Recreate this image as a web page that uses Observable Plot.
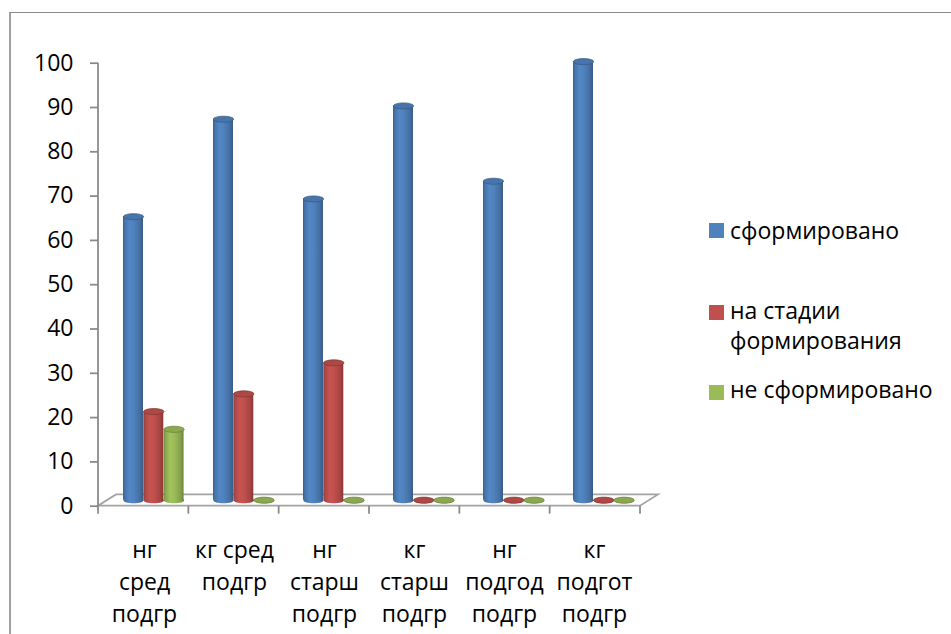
<!DOCTYPE html>
<html><head><meta charset="utf-8">
<script src="https://cdn.jsdelivr.net/npm/d3@7"></script>
<script src="https://cdn.jsdelivr.net/npm/@observablehq/plot@0.6"></script>
<style>
body{margin:0;background:#fff;font-family:"Open Sans",sans-serif;}
#wrap{position:relative;width:951px;height:634px;overflow:hidden;background:#fff;}
#frame{position:absolute;left:9px;top:12px;width:1000px;height:700px;border-left:2px solid #a0a0a0;border-top:1.5px solid #8a8a8a;}
#chart{position:absolute;left:0;top:0;}
#legend{position:absolute;left:709px;top:0;font-size:23px;line-height:30px;color:#000;}
.item{position:absolute;left:0;white-space:nowrap;}
.sw{position:absolute;left:0;width:15px;height:15px;}
.lab{position:absolute;left:21px;top:0;white-space:pre;}
</style></head><body>
<div id="wrap"><div id="frame"></div><div id="chart"></div><div id="legend"></div></div>
<script>
// ---- data ----
const categories = ["нг\nсред\nподгр", "кг сред\nподгр", "нг\nстарш\nподгр", "кг\nстарш\nподгр", "нг\nподгод\nподгр", "кг\nподгот\nподгр"];
const seriesNames = ["сформировано", "на стадии\nформирования", "не сформировано"];
const formed = [64, 86, 68, 89, 72, 99];
const forming = [20, 24, 31, 0, 0, 0];
const notFormed = [16, 0, 0, 0, 0, 0];
const yTicks = [0, 10, 20, 30, 40, 50, 60, 70, 80, 90, 100];
const seriesColors = ["#4F81BD", "#C0504D", "#9BBB59"];

// ---- layout ----
const W = 951, H = 634;
const mL = 98, mR = 311, mT = 62.7, mB = 128.3;
const bw = (W - mL - mR) / categories.length;
const barW = 20.3;
const offsets = [-11, 9.3, 29.6];
const baseDy = -6;
const depthDx = 18, depthDy = 11.3;
const axisGray = "#898989";
const fs = 23;

const ellipseSymbol = {
  draw(ctx, size) {
    const rx = Math.sqrt(size / Math.PI), ry = rx * 0.3, k = 0.5523;
    ctx.moveTo(-rx, 0);
    ctx.bezierCurveTo(-rx, -ry * k, -rx * k, -ry, 0, -ry);
    ctx.bezierCurveTo(rx * k, -ry, rx, -ry * k, rx, 0);
    ctx.bezierCurveTo(rx, ry * k, rx * k, ry, 0, ry);
    ctx.bezierCurveTo(-rx * k, ry, -rx, ry * k, -rx, 0);
    ctx.closePath();
  }
};

const valuesBySeries = [formed, forming, notFormed];
const marks = [];
valuesBySeries.forEach((vals, s) => {
  const data = categories.map((c, i) => ({c, v: vals[i]}));
  const fillUrl = `url(#cyl${s})`;
  const base = d3.color(seriesColors[s]);
  const inset = (bw - barW) / 2;
  marks.push(Plot.dot(data, {x: "c", y: 0, dx: offsets[s], dy: baseDy, symbol: ellipseSymbol, r: barW / 2, fill: fillUrl, stroke: "none"}));
  marks.push(Plot.barY(data, {x: "c", y: "v", dx: offsets[s], dy: baseDy, insetLeft: inset, insetRight: inset, fill: fillUrl}));
  marks.push(Plot.dot(data, {x: "c", y: "v", dx: offsets[s], dy: baseDy, symbol: ellipseSymbol, r: barW / 2,
    fill: base.darker(0.3).formatHex(), stroke: base.darker(1.1).formatHex(), strokeWidth: 0.7}));
});

const plot = Plot.plot({
  width: W, height: H,
  marginLeft: mL, marginRight: mR, marginTop: mT, marginBottom: mB,
  style: {fontFamily: '"Open Sans", sans-serif', fontSize: fs + "px", color: "#000", background: "transparent", overflow: "visible"},
  x: {domain: categories, padding: 0},
  y: {domain: [0, 100]},
  marks: [
    Plot.axisY({ticks: yTicks, tickSize: 8, tickPadding: 17, fontSize: fs, stroke: axisGray, strokeWidth: 1.75, fill: "#000", label: null}),
    Plot.axisX({tickSize: 0, tickPadding: 28.7, fontSize: fs, lineHeight: 32 / fs, fill: "#000", label: null}),
    ...marks
  ]
});

const svg = d3.select(plot);
const defs = svg.insert("defs", ":first-child");
seriesColors.forEach((c, s) => {
  const col = d3.color(c);
  const g = defs.append("linearGradient").attr("id", "cyl" + s)
    .attr("x1", 0).attr("x2", 1).attr("y1", 0).attr("y2", 0);
  [[0, col.darker(1.0)], [0.08, col.darker(0.35)], [0.32, col.brighter(0.12)], [0.55, col], [0.85, col.darker(0.45)], [1, col.darker(1.0)]]
    .forEach(([o, cc]) => g.append("stop").attr("offset", o).attr("stop-color", cc.formatHex()));
});

const xs = plot.scale("x"), ys = plot.scale("y");
const x0 = xs.range[0], x1 = xs.range[1];
const y0 = ys.apply(0), yTop = ys.apply(yTicks[yTicks.length - 1]);
// floor
svg.insert("polygon", "g")
  .attr("points", [[x0, y0], [x1, y0], [x1 + depthDx, y0 - depthDy], [x0 + depthDx, y0 - depthDy]].map(p => p.join(",")).join(" "))
  .attr("fill", "#fff").attr("stroke", "#a3a3a3").attr("stroke-width", 1.75).attr("stroke-linejoin", "miter");
// y axis line
svg.append("line").attr("x1", x0).attr("x2", x0).attr("y1", yTop).attr("y2", y0 + 1)
  .attr("stroke", axisGray).attr("stroke-width", 1.75);
// x ticks at band edges
d3.range(categories.length + 1).forEach(i => {
  const x = x0 + i * bw;
  svg.append("line").attr("x1", x).attr("x2", x).attr("y1", y0).attr("y2", y0 + 8)
    .attr("stroke", axisGray).attr("stroke-width", 1.75);
});
document.getElementById("chart").appendChild(plot);

// legend
const legendSwatchTops = [223, 305, 385];
const legendTextTops = [215.1, 295.1, 374.1];
const legend = d3.select("#legend");
seriesNames.forEach((name, s) => {
  const it = legend.append("div").attr("class", "item").style("top", "0px");
  it.append("div").attr("class", "sw").style("top", legendSwatchTops[s] + "px").style("background", seriesColors[s]);
  it.append("div").attr("class", "lab").style("top", legendTextTops[s] + "px").text(name);
});
</script>
</body></html>
